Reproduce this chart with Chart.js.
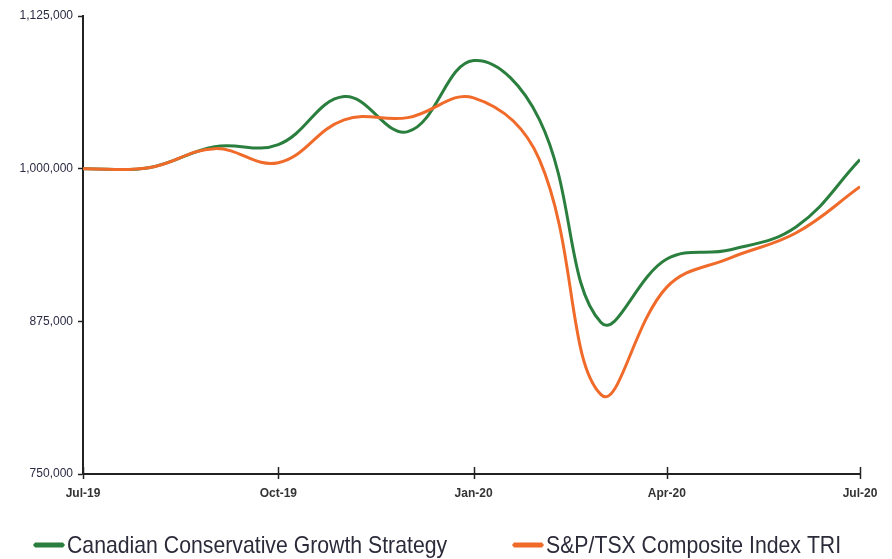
<!DOCTYPE html>
<html><head><meta charset="utf-8">
<script src="https://cdn.jsdelivr.net/npm/chart.js@4.4.1/dist/chart.umd.min.js"></script>
<style>html,body{margin:0;padding:0;background:#fff}#c{display:block}</style>
</head><body>
<canvas id="c" width="892" height="559"></canvas>
<script>
const categories = ['2019-07-01','2019-08-01','2019-09-01','2019-10-01','2019-11-01','2019-12-01','2020-01-01','2020-02-01','2020-03-01','2020-04-01','2020-05-01','2020-06-01','2020-07-01'];
const xTickDates = ['2019-07-01','2019-10-01','2020-01-01','2020-04-01','2020-07-01'];
const xTickLabels = ['Jul-19','Oct-19','Jan-20','Apr-20','Jul-20'];
const strategyValues = [1000000,1000800,1018000,1019700,1059000,1030300,1088500,1040200,874000,926000,933600,952500,1007400];
const indexValues = [1000000,1000800,1016400,1004900,1040000,1041800,1058000,1007400,815000,903000,927000,947500,985200];
const seriesNames = ['Canadian Conservative Growth Strategy','S&P/TSX Composite Index TRI'];
const yTickValues = [750000,875000,1000000,1125000];

const GREEN = '#2b7f3e', ORANGE = '#f06a2a', AXIS = '#222';
const DAY = 86400000;
const t0 = Date.parse(categories[0]);
const dayOf = d => Math.round((Date.parse(d) - t0) / DAY);
const xDays = categories.map(dayOf);
const xTickDays = xTickDates.map(dayOf);
const toPoints = vals => vals.map((v, i) => ({ x: xDays[i], y: v }));

const crossTicks = {
  id: 'crossTicks',
  afterDraw(chart) {
    const ctx = chart.ctx, xs = chart.scales.x, b = chart.chartArea.bottom;
    ctx.save();
    ctx.strokeStyle = AXIS; ctx.lineWidth = 1.5;
    xTickDays.forEach(d => {
      const x = Math.round(xs.getPixelForValue(d)) + 0.5;
      ctx.beginPath(); ctx.moveTo(x, b - 7); ctx.lineTo(x, b + 5); ctx.stroke();
    });
    ctx.restore();
  }
};

const legendPlugin = {
  id: 'customLegend',
  afterDraw(chart) {
    const ctx = chart.ctx;
    const starts = [33, 512];
    const y = 545;
    ctx.save();
    chart.data.datasets.forEach((ds, i) => {
      const x0 = starts[i];
      ctx.fillStyle = ds.borderColor;
      ctx.beginPath();
      ctx.moveTo(x0 + 2, y - 2.5); ctx.lineTo(x0 + 30, y - 2.5); ctx.lineTo(x0 + 32, y);
      ctx.lineTo(x0 + 30, y + 2.5); ctx.lineTo(x0 + 2, y + 2.5); ctx.lineTo(x0, y); ctx.closePath();
      ctx.fill();
      ctx.save();
      ctx.translate(x0 + 34, y);
      ctx.scale(0.885, 1);
      ctx.font = '24px "Liberation Sans", Arial, sans-serif';
      ctx.fillStyle = '#2b2b3a';
      ctx.textBaseline = 'middle';
      ctx.textAlign = 'left';
      ctx.fillText(ds.label, 0, 1);
      ctx.restore();
    });
    ctx.restore();
  }
};

new Chart(document.getElementById('c'), {
  type: 'line',
  data: {
    datasets: [
      { label: seriesNames[0], data: toPoints(strategyValues), borderColor: GREEN, backgroundColor: GREEN, borderWidth: 3, tension: 0.4, pointRadius: 0, fill: false, order: 2 },
      { label: seriesNames[1], data: toPoints(indexValues), borderColor: ORANGE, backgroundColor: ORANGE, borderWidth: 3, tension: 0.4, pointRadius: 0, fill: false, order: 1 }
    ]
  },
  options: {
    responsive: false,
    animation: false,
    layout: { padding: { top: 16, right: 32, bottom: 0, left: 0 } },
    plugins: { legend: { display: false }, tooltip: { enabled: false } },
    scales: {
      x: {
        type: 'linear',
        min: xDays[0], max: xDays[xDays.length - 1],
        afterFit(s) { s.height = 85; },
        afterBuildTicks(s) { s.ticks = xTickDays.map(v => ({ value: v })); },
        grid: { display: true, drawOnChartArea: false, tickLength: 5, tickColor: 'rgba(0,0,0,0)' },
        border: { display: true, color: AXIS, width: 2 },
        ticks: {
          autoSkip: false, maxRotation: 0, minRotation: 0, padding: 7,
          color: '#333', font: { family: '"Liberation Sans", Arial, sans-serif', size: 12, weight: 'bold' },
          callback: v => { const k = xTickDays.indexOf(v); return k >= 0 ? xTickLabels[k] : ''; }
        }
      },
      y: {
        min: 750000, max: 1125000,
        afterFit(s) { s.width = 83; },
        afterBuildTicks(s) { s.ticks = yTickValues.map(v => ({ value: v })); },
        grid: { display: true, drawOnChartArea: false, tickLength: 5, tickColor: AXIS, tickWidth: 1.5 },
        border: { display: true, color: AXIS, width: 2 },
        ticks: {
          padding: 5, color: '#2b2b44',
          font: { family: '"Liberation Sans", Arial, sans-serif', size: 12 },
          callback: v => v.toLocaleString('en-US')
        }
      }
    }
  },
  plugins: [crossTicks, legendPlugin]
});
</script>
</body></html>
